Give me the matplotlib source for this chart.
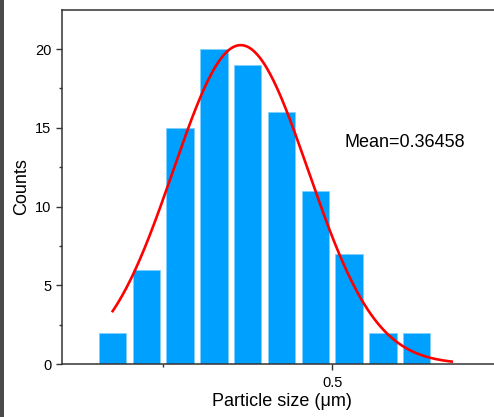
import numpy as np
import matplotlib
matplotlib.use("Agg")
import matplotlib.pyplot as plt
from matplotlib.patches import Rectangle
from matplotlib.ticker import MultipleLocator, FixedLocator

plt.rcParams['font.family'] = ['Liberation Sans', 'DejaVu Sans']

# data
bin_centers = [0.175, 0.225, 0.275, 0.325, 0.375, 0.425, 0.475, 0.525, 0.575, 0.625]
counts = [2, 6, 15, 20, 19, 16, 11, 7, 2, 2]
bin_width = 0.05
fit_mean = 0.36458
fit_sigma = 0.1
fit_amp = 20.25
fit_range = (0.175, 0.677)

W, H = 494, 417
fig = plt.figure(figsize=(W / 100, H / 100), dpi=100)
fig.patch.set_facecolor('white')
fig.patches.append(Rectangle((0, 0), 4 / W, 1, transform=fig.transFigure,
                             facecolor='#4a4a4a', edgecolor='none', zorder=-1))

ax_left, ax_bottom, ax_right, ax_top = 62, 364, 501, 10
ax = fig.add_axes([ax_left / W, 1 - ax_bottom / H,
                   (ax_right - ax_left) / W, (ax_bottom - ax_top) / H])

ax.bar(bin_centers, counts, width=bin_width * 0.815, color='#00A0FF',
       edgecolor='#7fd0ff', linewidth=0.6, zorder=2)

xs = np.linspace(fit_range[0], fit_range[1], 300)
ys = fit_amp * np.exp(-(xs - fit_mean) ** 2 / (2 * fit_sigma ** 2))
ax.plot(xs, ys, color='#FF0000', linewidth=1.9, zorder=3)

ax.set_xlim(0.1, 0.75)
ax.set_ylim(0, 22.48)

ax.xaxis.set_major_locator(FixedLocator([0.5]))
ax.xaxis.set_minor_locator(FixedLocator([0.25]))
ax.yaxis.set_major_locator(MultipleLocator(5))
ax.yaxis.set_minor_locator(MultipleLocator(2.5))

for s in ax.spines.values():
    s.set_color('#333333')
    s.set_linewidth(1.1)

ax.tick_params(axis='both', which='major', direction='out', length=4.5, width=1,
               color='#333333', labelsize=10.5, pad=3)
ax.tick_params(axis='both', which='minor', direction='out', length=2.5, width=1,
               color='#333333')
ax.tick_params(axis='x', which='major', pad=4)

ax.set_xlabel('Particle size (\u03bcm)', fontsize=13, labelpad=2)
ax.set_ylabel('Counts', fontsize=13, labelpad=4)

ax.text(0.519, 14.05, 'Mean=0.36458', fontsize=13, ha='left', va='center')

fig.savefig('out.png', dpi=100)
